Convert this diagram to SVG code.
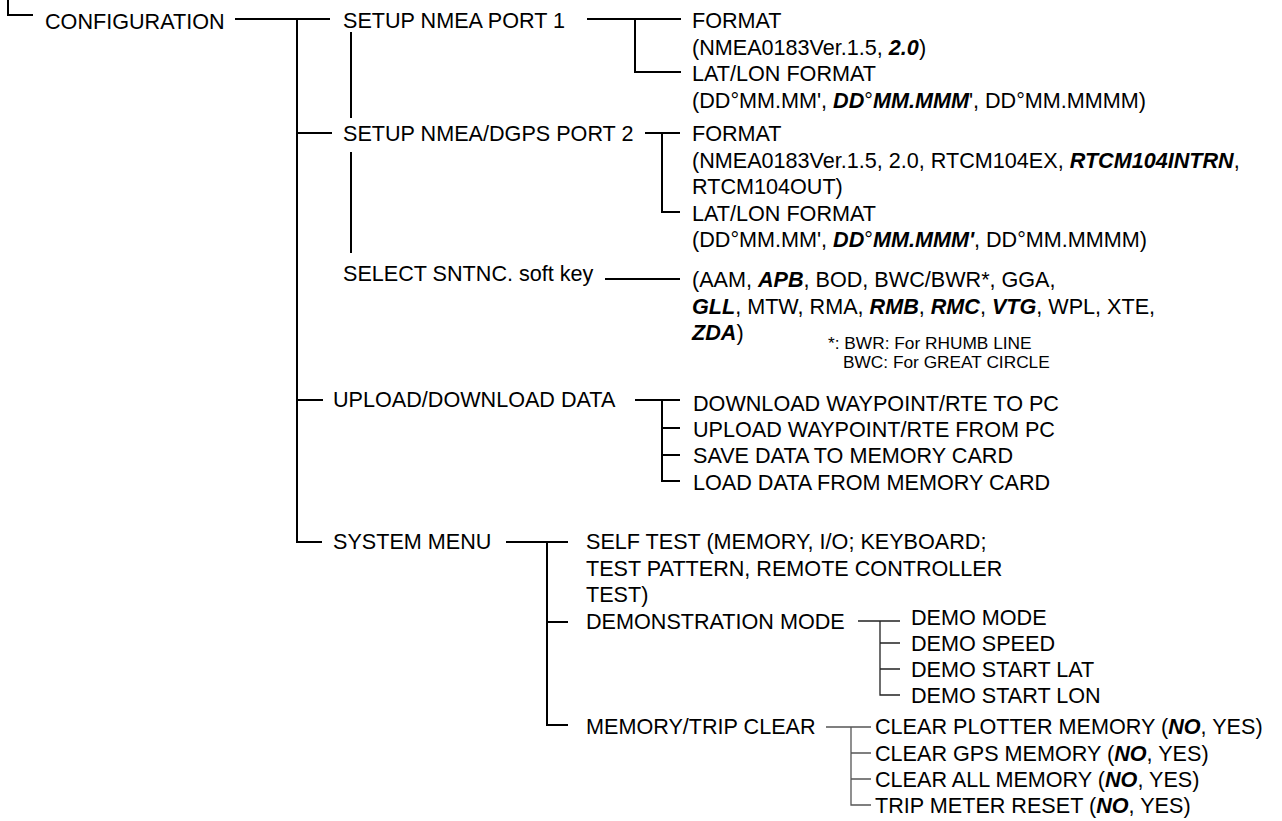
<svg xmlns="http://www.w3.org/2000/svg" width="1282" height="821" viewBox="0 0 1282 821">
<style>
text{font-family:"Liberation Sans",Arial,sans-serif;font-size:21.6px;fill:#000}
.bi{font-weight:bold;font-style:italic}
.sm{font-size:17.3px}
.ln{fill:none;stroke:#000;stroke-width:2}
.thin{fill:none;stroke:#222;stroke-width:1.3}
.gray{fill:none;stroke:#555;stroke-width:1.3}
</style>
<rect width="1282" height="821" fill="#fff"/>
<g id="connectors">
<path class="ln" d="M8,0V15H33"/>
<path class="ln" d="M235,19H330M297,19V542H322M297,133H332M297,400H323"/>
<path class="ln" d="M351,32V118M351,152V253"/>
<path class="ln" d="M587,19H681M635,19V72H681"/>
<path class="ln" d="M645,133H680M662,133V212H680"/>
<path class="ln" d="M605,279H680"/>
<path class="ln" d="M635,400H680M662,400V481H680M662,428H680M662,455H680"/>
<path class="ln" d="M506,542H568M547,542V725H568M547,622H568"/>
<path class="thin" d="M858,621H900M880,621V695H900M880,643H900M880,669H900"/>
<path class="gray" d="M826,727H871M851,727V805H871M851,753H871M851,779H871"/>
</g>
<g id="n-config"><text x="45" y="29">CONFIGURATION</text></g>
<g id="n-port1"><text x="343" y="28">SETUP NMEA PORT 1</text></g>
<g id="n-port1-opts">
<text x="692" y="28">FORMAT</text>
<text x="692" y="54.5">(NMEA0183Ver.1.5, <tspan class="bi">2.0</tspan>)</text>
<text x="692" y="81">LAT/LON FORMAT</text>
<text x="692" y="107.5">(DD°MM.MM', <tspan class="bi">DD</tspan>°<tspan class="bi">MM.MMM</tspan>', DD°MM.MMMM)</text>
</g>
<g id="n-port2"><text x="343" y="141">SETUP NMEA/DGPS PORT 2</text></g>
<g id="n-port2-opts">
<text x="692" y="141">FORMAT</text>
<text x="692" y="167.5">(NMEA0183Ver.1.5, 2.0, RTCM104EX, <tspan class="bi">RTCM104INTRN</tspan>,</text>
<text x="692" y="194">RTCM104OUT)</text>
<text x="692" y="220.5">LAT/LON FORMAT</text>
<text x="692" y="247">(DD°MM.MM', <tspan class="bi">DD</tspan>°<tspan class="bi">MM.MMM'</tspan>, DD°MM.MMMM)</text>
</g>
<g id="n-select"><text x="343" y="281">SELECT SNTNC. soft key</text></g>
<g id="n-select-opts">
<text x="692" y="287">(AAM, <tspan class="bi">APB</tspan>, BOD, BWC/BWR*, GGA,</text>
<text x="692" y="313.5"><tspan class="bi">GLL</tspan>, MTW, RMA, <tspan class="bi">RMB</tspan>, <tspan class="bi">RMC</tspan>, <tspan class="bi">VTG</tspan>, WPL, XTE,</text>
<text x="692" y="340"><tspan class="bi">ZDA</tspan>)</text>
<text class="sm" x="828" y="349">*: BWR: For RHUMB LINE</text>
<text class="sm" x="843" y="368">BWC: For GREAT CIRCLE</text>
</g>
<g id="n-upload"><text x="333" y="407">UPLOAD/DOWNLOAD DATA</text></g>
<g id="n-upload-opts">
<text x="693" y="410.5">DOWNLOAD WAYPOINT/RTE TO PC</text>
<text x="693" y="437">UPLOAD WAYPOINT/RTE FROM PC</text>
<text x="693" y="463">SAVE DATA TO MEMORY CARD</text>
<text x="693" y="489.5">LOAD DATA FROM MEMORY CARD</text>
</g>
<g id="n-system"><text x="333" y="549">SYSTEM MENU</text></g>
<g id="n-selftest">
<text x="586" y="549">SELF TEST (MEMORY, I/O; KEYBOARD;</text>
<text x="586" y="575.5">TEST PATTERN, REMOTE CONTROLLER</text>
<text x="586" y="602">TEST)</text>
</g>
<g id="n-demo"><text x="586" y="628.5">DEMONSTRATION MODE</text></g>
<g id="n-demo-opts">
<text x="911" y="625">DEMO MODE</text>
<text x="911" y="651">DEMO SPEED</text>
<text x="911" y="677">DEMO START LAT</text>
<text x="911" y="703">DEMO START LON</text>
</g>
<g id="n-memclear"><text x="586" y="734">MEMORY/TRIP CLEAR</text></g>
<g id="n-memclear-opts">
<text x="875" y="734">CLEAR PLOTTER MEMORY (<tspan class="bi">NO</tspan>, YES)</text>
<text x="875" y="760.5">CLEAR GPS MEMORY (<tspan class="bi">NO</tspan>, YES)</text>
<text x="875" y="787">CLEAR ALL MEMORY (<tspan class="bi">NO</tspan>, YES)</text>
<text x="875" y="813">TRIP METER RESET (<tspan class="bi">NO</tspan>, YES)</text>
</g>
</svg>
